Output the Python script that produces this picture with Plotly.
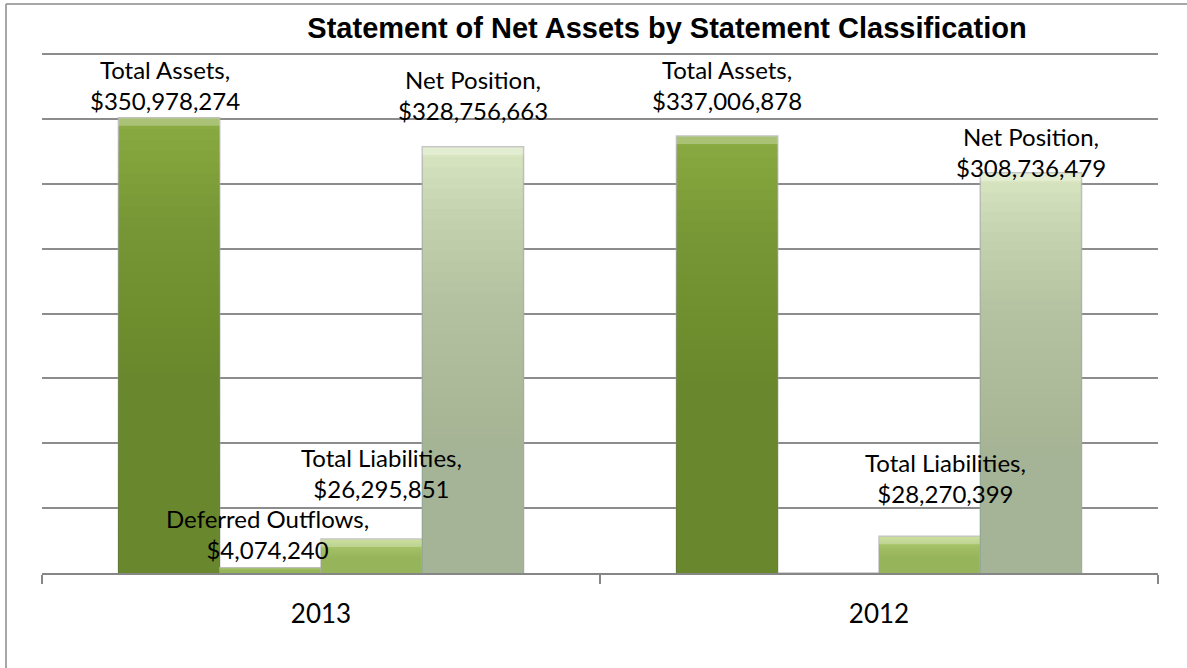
import plotly.graph_objects as go

# ---- data ----
years = ["2013", "2012"]
series_names = ["Total Assets", "Deferred Outflows", "Total Liabilities", "Net Position"]
total_assets = [350978274, 337006878]
deferred_outflows = [4074240, 0]
total_liabilities = [26295851, 28270399]
net_position = [328756663, 308736479]
series_values = [total_assets, deferred_outflows, total_liabilities, net_position]

# ---- styling ----
W, H = 1187, 668
L, R, T, B = 42, 29, 53, 95          # plot area margins (px)
PW, PH = W - L - R, H - T - B
Y_MAX = 401e6                        # a little headroom so the 400M gridline shows
PX_PER_UNIT = PH / Y_MAX
BARGAP = 0.274
N_SLOTS = 4

top_colors = ["#8AAB42", "#B3D070", "#B9D479", "#D9E6C1"]
bottom_colors = ["#678631", "#97B556", "#96B456", "#A6B691"]
label_font = dict(family="Lato, Calibri, sans-serif", size=24, color="#000000")

# label placement: (horizontal nudge, shift of label-block centre above bar top), px
label_shift = {
    (0, 0): (-4, 33), (0, 1): (0, 51),
    (1, 0): (-3, 34),
    (2, 0): (10, 66), (2, 1): (16, 58),
    (3, 0): (0, 52), (3, 1): (0, 21),
}


def hex_rgb(h):
    h = h.lstrip("#")
    return tuple(int(h[i:i + 2], 16) for i in (0, 2, 4))


def px_to_paper_x(px):
    return (px - L) / PW


def px_to_paper_y(py):
    return (H - B - py) / PH


fig = go.Figure()

N_LAYERS = 40
BEVEL_PX = 8
for s, (name, vals) in enumerate(zip(series_names, series_values)):
    # base bar
    fig.add_trace(go.Bar(
        x=years, y=vals, name=name, offsetgroup=str(s),
        marker=dict(color=top_colors[s],
                    line=dict(color="rgba(175,175,175,0.75)", width=1.5)),
        hoverinfo="skip", showlegend=False,
    ))
    # vertical shading toward the bottom of each bar
    r, g, b = hex_rgb(bottom_colors[s])
    a = 1 - 0.06 ** (1 / N_LAYERS)
    for k in range(1, N_LAYERS + 1):
        frac = k / (N_LAYERS + 1)
        fig.add_trace(go.Bar(
            x=years, y=[v * frac for v in vals], offsetgroup=str(s),
            marker=dict(color=f"rgba({r},{g},{b},{a:.4f})", line=dict(width=0)),
            hoverinfo="skip", showlegend=False,
        ))
    # light bevel along the top edge of the taller bars
    bevel = BEVEL_PX / PX_PER_UNIT
    tops = [bevel if v > 3 * bevel else 0 for v in vals]
    bases = [v - t for v, t in zip(vals, tops)]
    fig.add_trace(go.Bar(
        x=years, y=tops, base=bases, offsetgroup=str(s),
        marker=dict(color="rgba(255,255,255,0.28)", line=dict(width=0)),
        hoverinfo="skip", showlegend=False,
    ))

# data labels
slot_w = (1 - BARGAP) / N_SLOTS
annotations = []
for s, (name, vals) in enumerate(zip(series_names, series_values)):
    for i, v in enumerate(vals):
        if not v:
            continue
        dx, dy = label_shift[(s, i)]
        xc = i + (s - (N_SLOTS - 1) / 2) * slot_w
        annotations.append(dict(
            x=xc, y=v, xref="x", yref="y",
            text=f"{name},<br>${v:,.0f}",
            showarrow=False, xanchor="center", yanchor="middle",
            xshift=dx, yshift=dy, font=label_font, align="center",
        ))

# chart-area frame (left and top edges)
frame_color = "#8A8A8A"
shapes = [
    dict(type="line", xref="paper", yref="paper",
         x0=px_to_paper_x(6), x1=px_to_paper_x(6),
         y0=px_to_paper_y(4), y1=px_to_paper_y(H + 20),
         line=dict(color=frame_color, width=1.5)),
    dict(type="line", xref="paper", yref="paper",
         x0=px_to_paper_x(6), x1=px_to_paper_x(W + 20),
         y0=px_to_paper_y(4), y1=px_to_paper_y(4),
         line=dict(color=frame_color, width=1.5)),
]

fig.update_layout(
    width=W, height=H,
    margin=dict(l=L, r=R, t=T, b=B),
    paper_bgcolor="white", plot_bgcolor="white",
    barmode="group", bargap=BARGAP, bargroupgap=0,
    title=dict(text="<b>Statement of Net Assets by Statement Classification</b>",
               x=667 / W, xanchor="center", y=1 - 28 / H, yanchor="middle",
               font=dict(family="Liberation Sans, Arial, sans-serif", size=29,
                         color="#000000")),
    annotations=annotations,
    shapes=shapes,
)
fig.update_xaxes(
    type="category", categoryorder="array", categoryarray=years,
    showline=True, linecolor="#868686", linewidth=2,
    ticks="outside", tickson="boundaries", ticklen=9, tickwidth=2,
    tickcolor="#868686", showgrid=False,
    tickfont=dict(family="Lato, Calibri, sans-serif", size=26, color="#000000"),
    ticklabelstandoff=17,
)
fig.update_yaxes(
    range=[0, Y_MAX], dtick=50e6, showgrid=True, gridcolor="#8C8C8C",
    gridwidth=1.5, showticklabels=False, zeroline=False, ticks="",
)

fig.write_html("out.html")
